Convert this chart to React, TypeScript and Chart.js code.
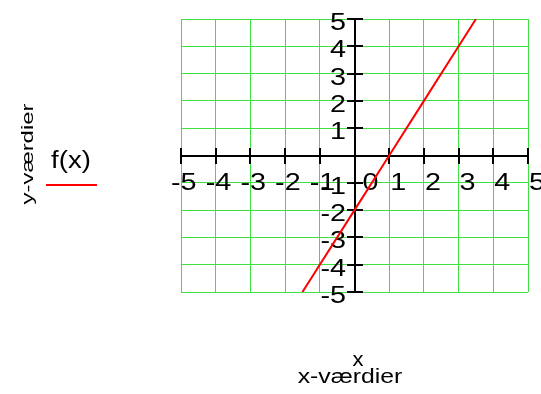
import React, { useEffect, useRef } from "react";
import { Chart, registerables } from "chart.js";

Chart.register(...registerables);

// ---- data ----
const seriesName = "f(x)";
const fxX = [-1.5, 0, 1, 2, 3, 3.5];
const fxY = [-5, -2, 0, 2, 4, 5];
const xTickValues = [-5, -4, -3, -2, -1, 0, 1, 2, 3, 4, 5];
const xTickLabels = ["-5", "-4", "-3", "-2", "-1", "0", "1", "2", "3", "4", "5"];
const yTickValues = [-5, -4, -3, -2, -1, 1, 2, 3, 4, 5];
const yTickLabels = ["-5", "-4", "-3", "-2", "-1", "1", "2", "3", "4", "5"];
const xVarLabel = "x";
const xAxisTitle = "x-værdier";
const yAxisTitle = "y-værdier";

const FONT = "'Liberation Sans', Arial, sans-serif";

function drawText(
  ctx: CanvasRenderingContext2D,
  text: string,
  x: number,
  y: number,
  size: number,
  sx: number,
  align: CanvasTextAlign,
  rotate = 0
) {
  ctx.save();
  ctx.translate(x, y);
  if (rotate) ctx.rotate(rotate);
  ctx.scale(sx, 1);
  ctx.font = `${size}px ${FONT}`;
  ctx.fillStyle = "#000";
  ctx.textAlign = align;
  ctx.textBaseline = "alphabetic";
  ctx.fillText(text, 0, 0);
  ctx.restore();
}

const axesPlugin = {
  id: "mathcadAxes",
  beforeDatasetsDraw(chart: any) {
    const ctx: CanvasRenderingContext2D = chart.ctx;
    const xs = chart.scales.x;
    const ys = chart.scales.y;
    const x0 = Math.round(xs.getPixelForValue(0));
    const y0 = Math.round(ys.getPixelForValue(0));
    ctx.save();
    ctx.strokeStyle = "#000";
    ctx.lineWidth = 2;
    ctx.beginPath();
    ctx.moveTo(xs.left, y0);
    ctx.lineTo(xs.right, y0);
    ctx.moveTo(x0, ys.top);
    ctx.lineTo(x0, ys.bottom);
    xTickValues.forEach((v) => {
      const px = Math.round(xs.getPixelForValue(v));
      ctx.moveTo(px, y0 - 8);
      ctx.lineTo(px, y0 + 8);
    });
    yTickValues.forEach((v) => {
      const py = Math.round(ys.getPixelForValue(v));
      ctx.moveTo(x0 - 8, py);
      ctx.lineTo(x0 + 8, py);
    });
    ctx.stroke();
    ctx.restore();

    // tick labels
    xTickValues.forEach((v, i) => {
      const px = xs.getPixelForValue(v);
      const ox = v < 0 ? px - 10 : v === 0 ? px + 8 : px + 1;
      drawText(ctx, xTickLabels[i], ox, y0 + 34, 23, 1.25, "left");
    });
    yTickValues.forEach((v, i) => {
      const py = ys.getPixelForValue(v);
      drawText(ctx, yTickLabels[i], x0 - 9, py + 11, 23, 1.25, "right");
    });

    // titles
    drawText(ctx, xVarLabel, 358, 366, 21, 1.05, "center");
    drawText(ctx, xAxisTitle, 350, 383, 20, 1.24, "center");
    drawText(ctx, yAxisTitle, 33, 154, 16.5, 1.45, "center", -Math.PI / 2);

    // legend
    drawText(ctx, seriesName, 71, 168, 23, 1.2, "center");
    ctx.save();
    ctx.strokeStyle = "#ff0000";
    ctx.lineWidth = 2;
    ctx.beginPath();
    ctx.moveTo(46, 185);
    ctx.lineTo(97, 185);
    ctx.stroke();
    ctx.restore();
  },
};

export default function App() {
  const ref = useRef<HTMLCanvasElement | null>(null);
  useEffect(() => {
    if (!ref.current) return;
    const chart = new Chart(ref.current, {
      type: "scatter",
      data: {
        datasets: [
          {
            label: seriesName,
            data: fxX.map((x, i) => ({ x, y: fxY[i] })),
            showLine: true,
            borderColor: "#ff0000",
            backgroundColor: "#ff0000",
            borderWidth: 2,
            pointRadius: 0,
            pointHoverRadius: 0,
            tension: 0,
          },
        ],
      },
      options: {
        responsive: false,
        animation: false,
        devicePixelRatio: 1,
        events: [],
        layout: { padding: { left: 181, top: 19, right: 13, bottom: 102 } },
        plugins: { legend: { display: false }, tooltip: { enabled: false } },
        scales: {
          x: {
            type: "linear",
            min: -5,
            max: 5,
            ticks: { stepSize: 1, display: false },
            grid: { color: "#40e040", lineWidth: 1, drawTicks: false },
            border: { display: false },
          },
          y: {
            type: "linear",
            min: -5,
            max: 5,
            ticks: { stepSize: 1, display: false },
            grid: { color: "#40e040", lineWidth: 1, drawTicks: false },
            border: { display: false },
          },
        },
      },
      plugins: [axesPlugin],
    });
    return () => chart.destroy();
  }, []);
  return (
    <div style={{ position: "absolute", left: 0, top: 0, width: 541, height: 394, background: "#fff" }}>
      <canvas ref={ref} width={541} height={394} style={{ display: "block" }} />
    </div>
  );
}
